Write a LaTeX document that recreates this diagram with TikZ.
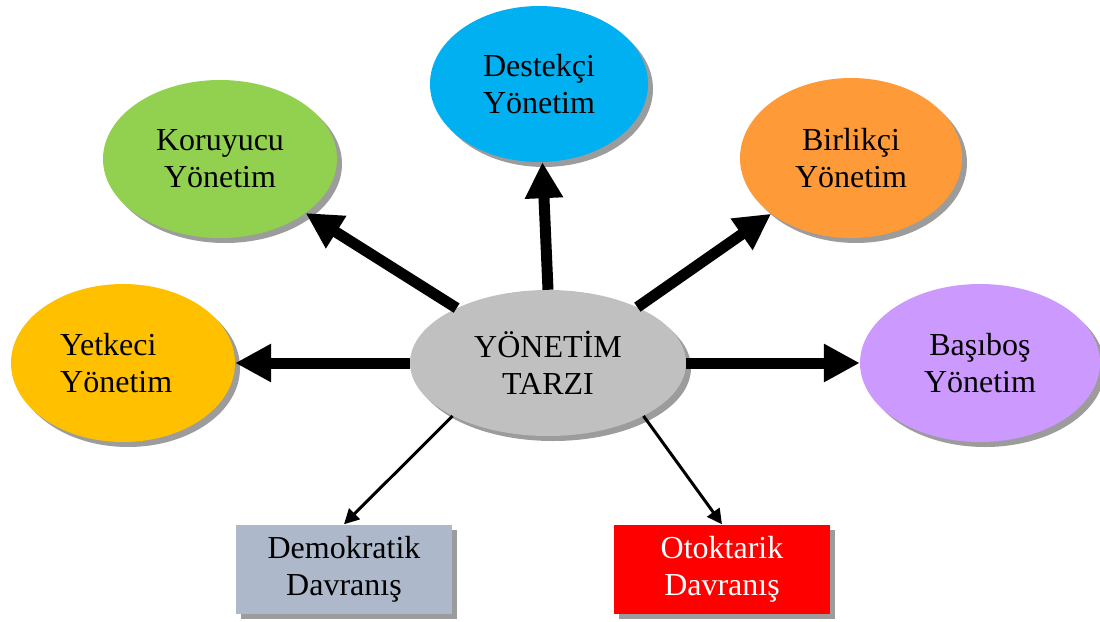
\documentclass[tikz,border=0pt]{standalone}
\usepackage{fontspec}
\setmainfont{Liberation Serif}
\usetikzlibrary{shapes.geometric,arrows.meta,shadows}
\definecolor{cgray}{HTML}{C0C0C0}
\definecolor{ccyan}{HTML}{00B0F0}
\definecolor{cgreen}{HTML}{92D050}
\definecolor{corange}{HTML}{FF9A38}
\definecolor{cyellow}{HTML}{FFC000}
\definecolor{cviolet}{HTML}{CC99FF}
\definecolor{cblue}{HTML}{ADB9CA}
\definecolor{cred}{HTML}{FF0000}
\definecolor{shadowgray}{HTML}{9C9C9C}
\begin{document}
\begin{tikzpicture}[x=1pt,y=-1pt,
  txt/.style={font=\fontsize{32}{37}\selectfont, align=center},
  ell/.style={ellipse, inner sep=0pt, txt,
    drop shadow={shadow xshift=5pt, shadow yshift=-5pt, fill=shadowgray, opacity=1}},
  boxnode/.style={rectangle, inner sep=0pt, txt, minimum width=216pt, minimum height=89pt,
    drop shadow={shadow xshift=5pt, shadow yshift=-5pt, fill=shadowgray, opacity=1}},
  bigarrow/.style={line width=11pt, -{Triangle[length=36pt,width=36pt]}},
  thinarrow/.style={line width=3pt, -{Triangle[length=15pt,width=15pt]}}]
\useasboundingbox (0,0) rectangle (1100,621);

\node[ell, fill=cgray, minimum width=276pt, minimum height=146pt] (c) at (548,363) {YÖNETİM\\TARZI};
\node[ell, fill=ccyan, minimum width=218pt, minimum height=156pt] (d) at (539,84) {Destekçi\\Yönetim};
\node[ell, fill=cgreen, minimum width=234pt, minimum height=158pt] (k) at (220,159) {Koruyucu\\Yönetim};
\node[ell, fill=corange, minimum width=222pt, minimum height=160pt] (b) at (851,158) {Birlikçi\\Yönetim};
\node[ell, fill=cyellow, minimum width=224pt, minimum height=158pt] (y) at (123,363) {};
\node[txt, align=left, anchor=west, inner sep=0pt] (yl) at (60,363) {Yetkeci\\Yönetim};
\node[ell, fill=cviolet, minimum width=240pt, minimum height=158pt] (s) at (980,363) {Başıboş\\Yönetim};
\node[boxnode, fill=cblue] (dm) at (344,569) {Demokratik\\Davranış};
\node[boxnode, fill=cred, text=white] (ot) at (722,569) {Otoktarik\\Davranış};

\draw[bigarrow] (c.north) -- (d);
\draw[bigarrow] (c.149) -- (k);
\draw[bigarrow] (c.32) -- (b);
\draw[bigarrow] (c.west) -- (y);
\draw[bigarrow] (c.east) -- (s);
\draw[thinarrow] (c.209) -- (dm.north);
\draw[thinarrow] (c.-29) -- (ot.north);
\end{tikzpicture}
\end{document}
